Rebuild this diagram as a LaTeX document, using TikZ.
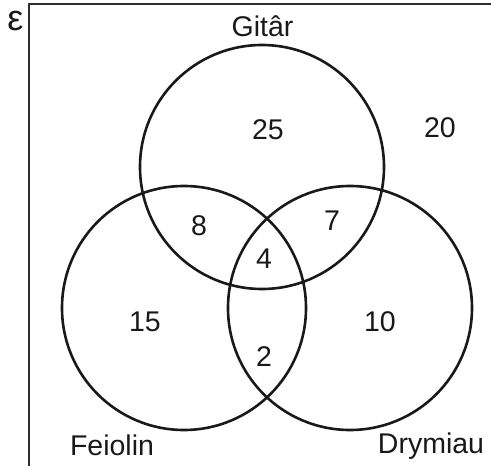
\documentclass[tikz,border=0pt]{standalone}
\usepackage{fontspec}
\setmainfont{Liberation Sans}
\begin{document}
\begin{tikzpicture}[x=1pt,y=-1pt,
  setc/.style={circle,draw=black!90,line width=2.6pt,minimum size=244pt,inner sep=0pt},
  lab/.style={inner sep=0pt,font=\fontsize{28.5}{32}\selectfont,text=black!90},
  num/.style={lab,anchor=center}]
\useasboundingbox (0,0) rectangle (491,466);
\draw[line width=2.4pt,draw=black!82] (29,470) -- (29,3.7) -- (495,3.7);
\node[setc] (G) at (262,167) {};
\node[setc] (F) at (184,308) {};
\node[setc] (D) at (350,308) {};
\node[lab,anchor=base,font=\fontsize{36}{40}\selectfont] (eps) at (15.5,30) {ε};
\node[lab,anchor=base] (tG) at (262.5,36) {Gitâr};
\node[lab,anchor=base] (tF) at (112,455) {Feiolin};
\node[lab,anchor=base] (tD) at (431,453) {Drymiau};
\node[num] (n25) at (268,130) {25};
\node[num] (n20) at (440,128) {20};
\node[num] (n8) at (199,226) {8};
\node[num] (n7) at (332,221) {7};
\node[num] (n4) at (264,259) {4};
\node[num] (n15) at (145,322) {15};
\node[num] (n2) at (264,357) {2};
\node[num] (n10) at (380,322) {10};
\end{tikzpicture}
\end{document}
